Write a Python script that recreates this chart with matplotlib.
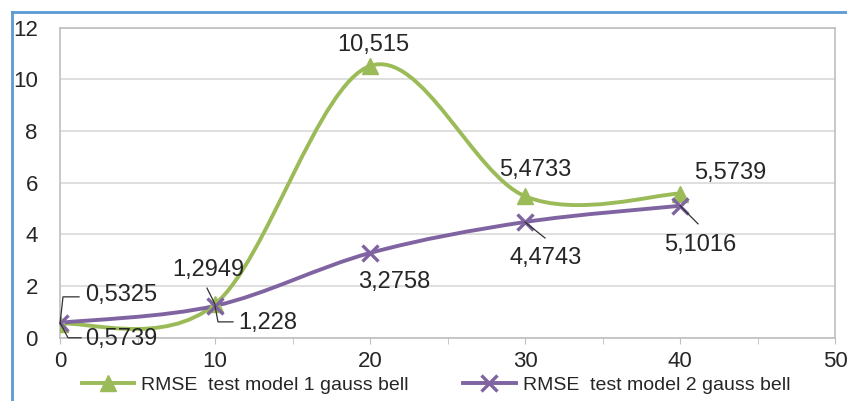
import numpy as np
import matplotlib
matplotlib.use("Agg")
import matplotlib.pyplot as plt
from matplotlib.path import Path
from matplotlib.patches import PathPatch
from matplotlib.lines import Line2D

plt.rcParams['font.family'] = ['Liberation Sans', 'DejaVu Sans']

# data
x_vals = [0, 10, 20, 30, 40]
model1 = [0.5325, 1.2949, 10.515, 5.4733, 5.5739]
model2 = [0.5739, 1.228, 3.2758, 4.4743, 5.1016]
labels1 = ['0,5325', '1,2949', '10,515', '5,4733', '5,5739']
labels2 = ['0,5739', '1,228', '3,2758', '4,4743', '5,1016']
series_names = ['RMSE  test model 1 gauss bell', 'RMSE  test model 2 gauss bell']
y_ticks = [0, 2, 4, 6, 8, 10, 12]
x_ticks = [0, 10, 20, 30, 40, 50]

GREEN = '#9BBB59'
PURPLE = '#8064A2'
GRID = '#D9D9D9'
TEXT = '#262626'

# label placement (offset pixels from the point), leader polyline offsets
lab1_pos = [(25, 29, 'left'), (-7, 34, 'center'), (3, 21, 'center'), (10, 26, 'center'), (50, 21, 'center')]
lab2_pos = [(25, -16, 'left'), (23, -17, 'left'), (24, -29, 'center'), (21, -36, 'center'), (20, -39, 'center')]
lead1 = [[(0, 0), (3, 27), (19, 27)], [(0, 0), (-8, 16)], None, None, None]
lead2 = [[(0, 0), (8, -15), (21, -15)], [(0, 0), (3, -16), (18, -16)], None, [(0, 0), (20, -16)], [(0, 0), (18, -18)]]


def smooth_path(xs, ys):
    # Excel-like smoothed line: Catmull-Rom converted to cubic beziers
    pts = np.column_stack([xs, ys]).astype(float)
    ext = np.vstack([pts[0], pts, pts[-1]])
    verts = [pts[0]]
    codes = [Path.MOVETO]
    for i in range(1, len(ext) - 2):
        p0, p1, p2, p3 = ext[i - 1], ext[i], ext[i + 1], ext[i + 2]
        verts += [p1 + (p2 - p0) / 6, p2 - (p3 - p1) / 6, p2]
        codes += [Path.CURVE4] * 3
    return Path(verts, codes)


fig = plt.figure(figsize=(8.47, 4.01), dpi=100)
ax = fig.add_axes([60 / 847, 63.4 / 401, 775 / 847, 310 / 401])
ax.set_xlim(0, 50)
ax.set_ylim(0, 12)
ax.set_autoscale_on(False)

for ys, col in [(model1, GREEN), (model2, PURPLE)]:
    ax.add_patch(PathPatch(smooth_path(x_vals, ys), fill=False, edgecolor=col, lw=2.8,
                           capstyle='round', zorder=3))
ax.plot(x_vals, model1, ls='none', marker='^', ms=12, color=GREEN, zorder=4)
ax.plot(x_vals, model2, ls='none', marker='x', ms=11, mew=2.4, color=PURPLE, zorder=5)

for xs, ys, labs, pos, leads in [(x_vals, model1, labels1, lab1_pos, lead1),
                                 (x_vals, model2, labels2, lab2_pos, lead2)]:
    for xv, yv, lab, (dx, dy, ha), ld in zip(xs, ys, labs, pos, leads):
        ax.annotate(lab, (xv, yv), xytext=(dx, dy), textcoords='offset pixels',
                    ha=ha, va='center', fontsize=17, color=TEXT, zorder=6)
        if ld is not None:
            px, py = ax.transData.transform((xv, yv))
            seg = np.array([ax.transData.inverted().transform((px + ox, py + oy)) for ox, oy in ld])
            ax.plot(seg[:, 0], seg[:, 1], color='#303030', lw=0.9, zorder=6, clip_on=False)

ax.set_yticks(y_ticks)
ax.set_xticks(x_ticks)
ax.set_xticks([5, 15, 25, 35, 45], minor=True)
ax.yaxis.grid(True, color=GRID, lw=1.2)
ax.set_axisbelow(True)
for s in ax.spines.values():
    s.set_color('#BFBFBF')
    s.set_linewidth(1.2)
ax.tick_params(axis='y', length=0, pad=16, labelsize=16, labelcolor=TEXT)
ax.tick_params(axis='x', which='both', length=4, color='#BFBFBF', direction='out',
               pad=6, labelsize=16, labelcolor=TEXT)

handles = [Line2D([], [], color=GREEN, lw=2.8, marker='^', ms=12),
           Line2D([], [], color=PURPLE, lw=2.8, marker='x', ms=11, mew=2.4)]
fig.legend(handles, series_names, loc='center', bbox_to_anchor=(436 / 847, 16 / 401), ncol=2,
           frameon=False, fontsize=14, handlelength=2.7, handletextpad=0.35,
           columnspacing=2.8, labelcolor=TEXT)

# blue selection border of the chart object
fig.add_artist(Line2D([12 / 847, 1], [1 - 12 / 401, 1 - 12 / 401], color='#5B9BD5', lw=2))
fig.add_artist(Line2D([12 / 847, 12 / 847], [0, 1 - 12 / 401], color='#5B9BD5', lw=2))

fig.savefig('out.png', dpi=100)
